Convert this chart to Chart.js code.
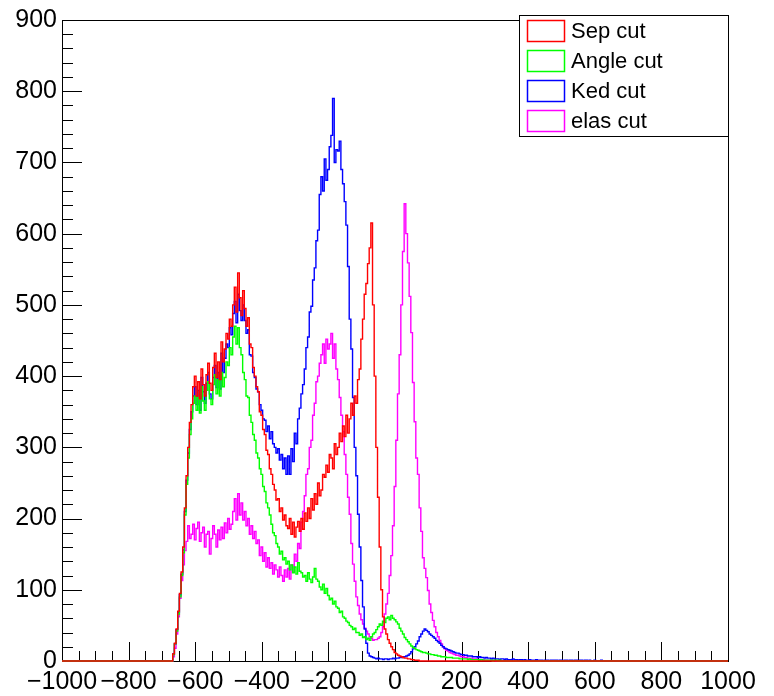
<!DOCTYPE html>
<html>
<head>
<meta charset="utf-8">
<script src="https://cdn.jsdelivr.net/npm/chart.js@4.4.1/dist/chart.umd.min.js"></script>
<style>
  html, body { margin: 0; padding: 0; background: #fff; }
</style>
</head>
<body>
<canvas id="c" width="774" height="696"></canvas>
<script>
// histogram bins: first bin centre and width (x units)
const binStart = -670;
const binWidth = 5;

const seriesNames = ['Sep cut', 'Angle cut', 'Ked cut', 'elas cut'];
const seriesColors = ['#ff0000', '#00ff00', '#0000ff', '#ff00ff'];

const xTicks = [-1000, -800, -600, -400, -200, 0, 200, 400, 600, 800, 1000];
const yTicks = [0, 100, 200, 300, 400, 500, 600, 700, 800, 900];

// bin contents, starting at binStart (10 bins = 50 units per row)
const sepCut = [
  0, 10, 25, 45, 70, 95, 125, 160, 215, 260,
  300, 335, 360, 385, 400, 372, 392, 368, 410, 388,
  372, 402, 418, 390, 380, 412, 432, 398, 420, 395,
  448, 420, 438, 460, 452, 480, 470, 500, 525, 490,
  545, 510, 485, 520, 495, 470, 482, 445, 440, 412,
  400, 385, 378, 350, 345, 325, 318, 296, 290, 270,
  262, 248, 240, 226, 228, 210, 215, 198, 205, 190,
  186, 200, 178, 195, 174, 188, 196, 182, 200, 185,
  208, 196, 215, 200, 228, 212, 235, 220, 250, 232,
  240, 262, 258, 275, 265, 290, 285, 270, 305, 290,
  300, 320, 308, 330, 315, 345, 320, 340, 362, 345,
  372, 362, 395, 410, 452, 480, 515, 530, 558, 580,
  615, 500, 400, 300, 230, 160, 100, 62, 45, 38,
  30, 25, 20, 16, 12, 10, 8, 7, 6, 5,
  4, 4, 3, 3, 2, 2, 1, 1, 1, 0
];
const angleCut = [
  0, 9, 24, 42, 66, 90, 120, 152, 205, 248,
  285, 318, 340, 362, 372, 352, 370, 348, 385, 365,
  352, 380, 392, 368, 360, 388, 402, 375, 395, 372,
  405, 385, 398, 420, 415, 440, 430, 455, 470, 445,
  468, 440, 430, 405, 395, 372, 370, 345, 335, 318,
  310, 292, 285, 270, 262, 245, 238, 222, 215, 205,
  192, 180, 176, 165, 160, 150, 154, 142, 145, 136,
  140, 128, 135, 124, 132, 122, 138, 126, 124, 118,
  120, 112, 124, 115, 110, 118, 130, 115, 112, 104,
  100, 108, 95, 102, 92, 86, 88, 80, 84, 76,
  74, 68, 70, 62, 60, 56, 54, 50, 48, 44,
  46, 40, 40, 36, 38, 33, 34, 30, 32, 29,
  34, 38, 40, 44, 48, 52, 50, 56, 54, 60,
  62, 58, 64, 60, 58, 55, 52, 46, 42, 38,
  33, 30, 27, 24, 21, 19, 18, 16, 15, 14,
  13, 12, 12, 11, 10, 10, 9, 9, 8, 8,
  7, 7, 6, 6, 6, 5, 5, 5, 5, 4,
  4, 4, 4, 3, 3, 3, 3, 3, 2, 3,
  2, 2, 2, 2, 2, 1, 2, 1, 1, 1,
  1, 1, 1, 0, 1, 1, 0, 1, 0, 0
];
const kedCut = [
  0, 10, 24, 44, 68, 93, 122, 156, 210, 254,
  292, 325, 350, 372, 385, 360, 380, 352, 398, 378,
  362, 390, 405, 375, 368, 398, 415, 384, 405, 382,
  432, 405, 425, 445, 440, 468, 458, 488, 505, 475,
  515, 492, 478, 500, 478, 460, 465, 430, 428, 405,
  398, 382, 378, 360, 352, 340, 338, 322, 330, 312,
  322, 305, 300, 292, 298, 282, 290, 270, 285, 262,
  288, 262, 298, 280, 320, 305, 340, 355, 375, 388,
  410, 440, 455, 490, 498, 535, 552, 590, 605, 655,
  680, 660, 705, 675, 690, 722, 738, 790, 700, 718,
  716, 730, 690, 670, 645, 612, 554, 480, 438, 370,
  300, 260, 206, 160, 113, 76, 45, 25, 11, 7,
  6, 5, 4, 3, 4, 3, 3, 2, 3, 3,
  2, 3, 3, 4, 3, 4, 4, 5, 5, 6,
  6, 7, 8, 10, 13, 17, 20, 24, 28, 34,
  38, 42, 45, 43, 41, 38, 36, 34, 32, 29,
  27, 25, 22, 20, 18, 17, 16, 15, 14, 13,
  12, 11, 11, 10, 9, 9, 8, 8, 7, 7,
  7, 6, 6, 6, 5, 6, 5, 5, 4, 5,
  4, 4, 3, 4, 3, 3, 3, 2, 3, 3,
  2, 3, 2, 2, 2, 3, 2, 2, 1, 2,
  2, 1, 2, 1, 1, 2, 1, 1, 1, 2,
  1, 1, 1, 0, 1, 1, 1, 0, 1, 1,
  1, 1, 0, 1, 1, 0, 1, 1, 0, 1,
  1, 0, 1, 1, 0, 1, 1, 0, 1, 1,
  0, 1, 0, 0, 1, 0, 0, 0, 1, 0
];
const elasCut = [
  0, 6, 18, 38, 62, 88, 113, 135, 155, 168,
  190, 172, 178, 192, 170, 186, 195, 168, 180, 188,
  160, 178, 182, 150, 172, 190, 178, 160, 184, 170,
  188, 172, 194, 180, 200, 185, 192, 210, 228, 198,
  235, 205, 222, 198, 210, 190, 200, 178, 190, 172,
  182, 165, 170, 148, 160, 140, 152, 132, 145, 130,
  138, 122, 135, 128, 118, 132, 120, 112, 128, 118,
  130, 115, 135, 125, 150, 140, 165, 158, 195, 210,
  232, 262, 270, 300, 310, 345, 362, 392, 400, 418,
  430, 445, 418, 452, 438, 445, 460, 425, 445, 410,
  395, 370, 345, 322, 290, 262, 230, 206, 165, 136,
  112, 90, 78, 66, 58, 52, 46, 42, 38, 34,
  32, 29, 30, 30, 32, 34, 40, 48, 66, 80,
  95, 120, 148, 190, 245, 310, 375, 430, 500, 575,
  642, 600, 559, 512, 461, 391, 336, 285, 262, 215,
  182, 145, 130, 117, 99, 80, 68, 57, 48, 40,
  34, 29, 24, 20, 17, 15, 14, 12, 11, 10,
  9, 8, 8, 7, 6, 6, 5, 5, 4, 4,
  4, 3, 3, 3, 2, 2, 2, 2, 1, 1,
  1, 1, 1, 0, 1, 0
];

function toPoints(values) {
  const pts = [{ x: -1000, y: 0 }];
  values.forEach((v, i) => pts.push({ x: binStart + i * binWidth, y: v }));
  pts.push({ x: 1000, y: 0 });
  return pts;
}

const seriesValues = [sepCut, angleCut, kedCut, elasCut];
const FONT = "'Liberation Sans', Arial, Helvetica, sans-serif";

// ROOT-like frame with inward ticks, plus the boxed legend
const rootFrame = {
  id: 'rootFrame',
  beforeDatasetsDraw(chart) {
    const { ctx, chartArea: a, scales: { x, y } } = chart;
    ctx.save();
    ctx.strokeStyle = '#000';
    ctx.lineWidth = 1;
    ctx.strokeRect(a.left + 0.5, a.top + 0.5, a.right - a.left, a.bottom - a.top);
    ctx.beginPath();
    for (let v = 0; v <= 900; v += 20) {
      const py = Math.round(y.getPixelForValue(v)) + 0.5;
      const len = v % 100 === 0 ? 20 : 11;
      ctx.moveTo(a.left, py);
      ctx.lineTo(a.left + len, py);
    }
    for (let v = -1000; v <= 1000; v += 50) {
      const px = Math.round(x.getPixelForValue(v)) + 0.5;
      const len = v % 200 === 0 ? 19 : 10;
      ctx.moveTo(px, a.bottom);
      ctx.lineTo(px, a.bottom - len);
    }
    ctx.stroke();
    ctx.restore();
  },
  afterDraw(chart) {
    const { ctx } = chart;
    const bx = 519, by = 15, bw = 209, bh = 121;
    ctx.save();
    ctx.fillStyle = '#fff';
    ctx.fillRect(bx, by, bw, bh);
    ctx.strokeStyle = '#000';
    ctx.lineWidth = 1;
    ctx.strokeRect(bx + 0.5, by + 0.5, bw, bh);
    ctx.font = '22px ' + FONT;
    ctx.textBaseline = 'middle';
    chart.data.datasets.forEach((ds, i) => {
      const cy = by + 15.5 + i * 30;
      ctx.strokeStyle = ds.borderColor;
      ctx.lineWidth = 1.5;
      ctx.strokeRect(527.5, cy - 10, 37, 21);
      ctx.fillStyle = '#000';
      ctx.fillText(ds.label, 571, cy + 1);
    });
    ctx.restore();
  }
};

new Chart(document.getElementById('c'), {
  type: 'line',
  data: {
    datasets: seriesNames.map((name, i) => ({
      label: name,
      data: toPoints(seriesValues[i]),
      borderColor: seriesColors[i],
      borderWidth: 1.4,
      pointRadius: 0,
      stepped: 'middle',
      fill: false,
      clip: false
    }))
  },
  options: {
    responsive: false,
    animation: false,
    layout: { padding: { top: 15, right: 46, left: 0, bottom: 0 } },
    plugins: {
      legend: { display: false },
      tooltip: { enabled: false }
    },
    scales: {
      x: {
        type: 'linear',
        min: -1000,
        max: 1000,
        afterFit: s => { s.height = 35; },
        afterBuildTicks: s => { s.ticks = xTicks.map(v => ({ value: v })); },
        grid: { display: false, drawTicks: false },
        border: { display: false },
        ticks: {
          autoSkip: false,
          maxRotation: 0,
          minRotation: 0,
          padding: 6,
          color: '#000',
          font: { family: FONT, size: 25 },
          callback: v => (v < 0 ? '\u2212' + Math.abs(v) : String(v))
        }
      },
      y: {
        min: 0,
        max: 900,
        afterFit: s => { s.width = 62; },
        afterBuildTicks: s => { s.ticks = yTicks.map(v => ({ value: v })); },
        grid: { display: false, drawTicks: false },
        border: { display: false },
        ticks: {
          padding: 5,
          color: '#000',
          font: { family: FONT, size: 25 }
        }
      }
    }
  },
  plugins: [rootFrame]
});
</script>
</body>
</html>
